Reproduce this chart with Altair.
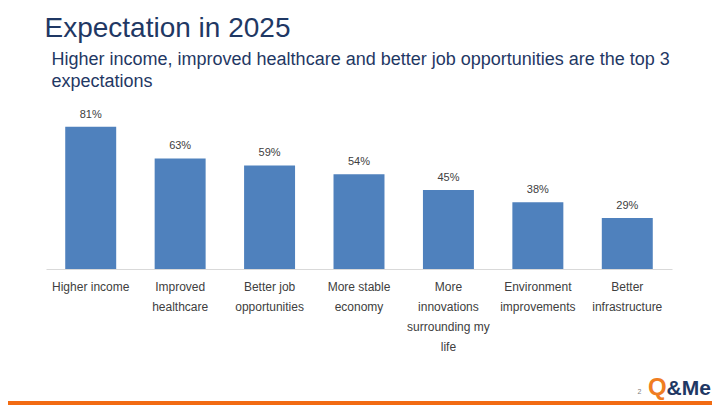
import altair as alt
import pandas as pd

categories = ["Higher income", "Improved healthcare", "Better job opportunities",
              "More stable economy", "More innovations surrounding my life",
              "Environment improvements", "Better infrastructure"]
label_lines = ["Higher income", "Improved|healthcare", "Better job|opportunities",
               "More stable|economy", "More|innovations|surrounding my|life",
               "Environment|improvements", "Better|infrastructure"]
values = [81, 63, 59, 54, 45, 38, 29]

title_text = "Expectation in 2025"
subtitle_lines = ["Higher income, improved healthcare and better job opportunities are the top 3",
                  "expectations"]

df = pd.DataFrame({"category": categories, "value": values, "wrapped": label_lines})
df["label"] = [f"{v}%" for v in values]

lookup = "{" + ",".join(f"'{c}':'{w}'" for c, w in zip(categories, label_lines)) + "}"

BAR = "#4F81BD"
NAVY = "#1F3864"
TXT = "#404040"
FONT = "Liberation Sans"

x = alt.X("category:N", sort=categories, title=None,
          scale=alt.Scale(paddingInner=0.43, paddingOuter=0.215),
          axis=alt.Axis(labelAngle=0, labelExpr=f"split({lookup}[datum.label], '|')",
                        labelFontSize=12, labelColor=TXT, labelLineHeight=20,
                        labelPadding=12, ticks=False, domainColor="#D9D9D9",
                        domainWidth=1, labelFont=FONT, labelLimit=200))
y = alt.Y("value:Q", scale=alt.Scale(domain=[0, 90]), axis=None)

base = alt.Chart(df)
bars = base.mark_bar(color=BAR).encode(x=x, y=y)
texts = base.mark_text(dy=-9, baseline="alphabetic", fontSize=11, color=TXT,
                       font=FONT).encode(x=x, y=y, text="label:N")

deco = alt.Chart(pd.DataFrame({"k": [0]}))
title = deco.mark_text(text=title_text, align="left", baseline="alphabetic",
                       fontSize=28, color=NAVY, font=FONT).encode(
    x=alt.value(-1.5), y=alt.value(-74))
subtitle = deco.mark_text(text=subtitle_lines, align="left", baseline="alphabetic",
                          fontSize=18, lineHeight=22, color=NAVY, font=FONT).encode(
    x=alt.value(5.5), y=alt.value(-46.5))
orange = deco.mark_rule(color="#F26B12", strokeWidth=4).encode(
    x=alt.value(-60), x2=alt.value(700), y=alt.value(292))
logo_q = deco.mark_text(text="Q", align="left", baseline="alphabetic", fontSize=24,
                        fontWeight="bold", color="#F07D22", font=FONT).encode(
    x=alt.value(602), y=alt.value(284))
logo_me = deco.mark_text(text="&Me", align="left", baseline="alphabetic", fontSize=21,
                         fontWeight="bold", color=NAVY, font=FONT).encode(
    x=alt.value(620.5), y=alt.value(284))
pagenum = deco.mark_text(text="2", align="left", baseline="alphabetic", fontSize=7,
                         color="#808080", font=FONT).encode(
    x=alt.value(591.5), y=alt.value(283))

chart = alt.layer(bars, texts, title, subtitle, orange, logo_q, logo_me, pagenum).properties(
    width=626, height=158,
    autosize=alt.AutoSizeParams(type="none"),
    padding={"left": 38, "top": 103, "right": 40, "bottom": 136},
).configure_view(stroke=None)

chart.save("out.html", embed_options={"renderer": "svg", "actions": False})
